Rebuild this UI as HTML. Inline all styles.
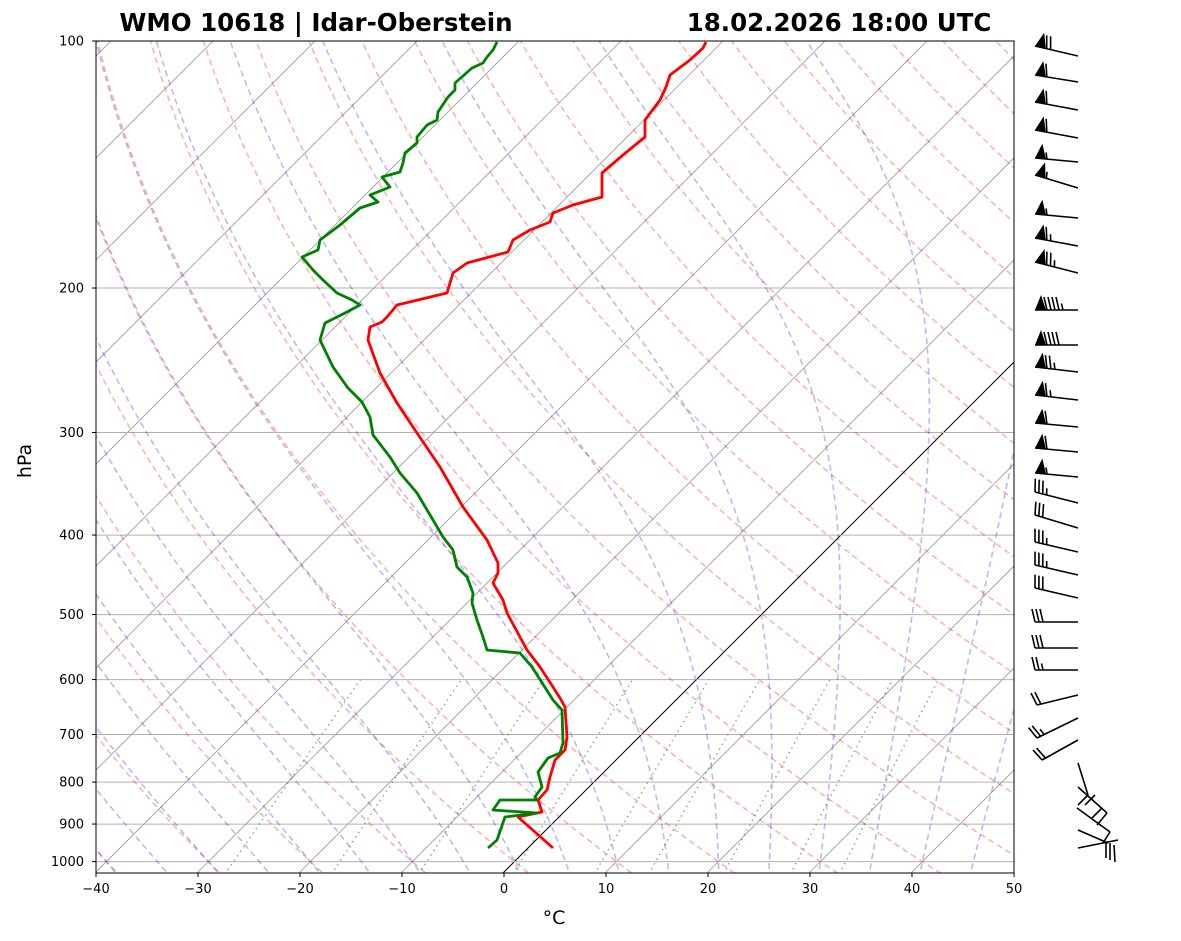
<!DOCTYPE html>
<html><head><meta charset="utf-8"><style>
html,body{margin:0;padding:0;background:#fff;}
svg{display:block;font-family:"DejaVu Sans","Liberation Sans",sans-serif;}
</style></head><body>
<svg id="s" width="1181" height="941" xmlns="http://www.w3.org/2000/svg">
<defs><clipPath id="c"><rect x="96" y="41" width="918" height="832"/></clipPath></defs>
<g id="bg" clip-path="url(#c)"></g>
<g id="prof" clip-path="url(#c)"></g>
<rect x="96" y="41" width="918" height="832" fill="none" stroke="#000" stroke-width="1"/>
<g id="ax" font-size="13" fill="#000"></g>
<g id="barbs"></g>
<text x="316" y="31" font-size="24.5" font-weight="bold" text-anchor="middle">WMO 10618 | Idar-Oberstein</text>
<text x="839" y="31" font-size="24.5" font-weight="bold" text-anchor="middle">18.02.2026 18:00 UTC</text>
<text x="554" y="924" font-size="19" text-anchor="middle">°C</text>
<text x="31" y="461" font-size="19" text-anchor="middle" transform="rotate(-90 31 461)">hPa</text>
</svg>
<script>
var NS="http://www.w3.org/2000/svg";
function el(p,t,a){var e=document.createElementNS(NS,t);for(var k in a)e.setAttribute(k,a[k]);p.appendChild(e);return e;}
function Y(p){return 41+820.6*Math.log10(p/100);}
function X(T,p){return 504+10.2*T+1.0*(872-Y(p));}
var bg=document.getElementById('bg'),ax=document.getElementById('ax');
function poly(g,pts,a){var d=pts.map(function(q,i){return (i?'L':'M')+q[0].toFixed(1)+','+q[1].toFixed(1);}).join('');a.d=d;a.fill='none';return el(g,'path',a);}
var P=[];for(var p=1050;p>=95;p-=5)P.push(p);
for(var T=-120;T<=50;T+=10){poly(bg,[[X(T,1100),Y(1100)],[X(T,90),Y(90)]],{stroke:T==0?'#000':'#999','stroke-width':T==0?1:0.8});}
[100,200,300,400,500,600,700,800,900,1000].forEach(function(p){poly(bg,[[96,Y(p)],[1014,Y(p)]],{stroke:'#b0b0b0','stroke-width':1});
 var t=el(ax,'text',{x:84,y:Y(p)+4.5,'text-anchor':'end'});t.textContent=p;
 el(ax,'line',{x1:92,x2:96,y1:Y(p),y2:Y(p),stroke:'#000'});});
for(var T=-40;T<=50;T+=10){var x=504+10.2*T;el(ax,'line',{x1:x,x2:x,y1:873,y2:877,stroke:'#000'});var t=el(ax,'text',{x:x,y:893,'text-anchor':'middle'});t.textContent=(T<0?'\u2212'+(-T):T);}
for(var th=-40;th<=200;th+=10){var pts=P.map(function(p){return [X((th+273.15)*Math.pow(p/1000,0.2857)-273.15,p),Y(p)];});
 poly(bg,pts,{stroke:'rgba(255,0,0,0.3)','stroke-width':1.6,'stroke-dasharray':'6,4'});}
function es(T){return 6.112*Math.exp(17.67*T/(T+243.5));}
function dTdp(T,p){var Tk=T+273.15,rs=0.622*es(T)/(p-es(T)),Lv=2.501e6,Rd=287.04,Cp=1005.7;
 return (Rd*Tk+Lv*rs)/(Cp+Lv*Lv*rs*0.622/(Rd*Tk*Tk))/p;}
for(var t0=-40;t0<=45;t0+=5){var up=[],T=t0,p=1000;up.push([X(T,p),Y(p)]);
 while(p>100){var h=-2;T+=dTdp(T,p+h/2)*h;p+=h;up.push([X(T,p),Y(p)]);}
 var dn=[];T=t0;p=1000;while(p<1050){var h=2;T+=dTdp(T,p+h/2)*h;p+=h;dn.push([X(T,p),Y(p)]);}
 poly(bg,dn.reverse().concat(up),{stroke:'rgba(0,0,255,0.28)','stroke-width':1.6,'stroke-dasharray':'6,4'});}
[0.0004,0.001,0.002,0.004,0.007,0.01,0.016,0.024,0.032].forEach(function(w){var pts=[];
 for(var p=1050;p>=600;p-=10){var e=p*w/(0.622+w),l=Math.log(e/6.112),Td=243.5*l/(17.67-l);pts.push([X(Td,p),Y(p)]);}
 poly(bg,pts,{stroke:'rgba(0,128,0,0.5)','stroke-width':1.6,'stroke-dasharray':'1.5,4'});});
var pr=document.getElementById('prof');
var red=[[706,42],[703,48],[690,60],[670,75],[666,87],[660,100],[645,120],[645,137],[623,155],[602,173],[602,197],[573,205],[553,213],[550,222],[530,230],[513,240],[508,252],[467,263],[453,273],[450,283],[447,293],[397,305],[387,317],[382,322],[370,327],[368,340],[380,373],[397,403],[417,433],[440,467],[463,507],[487,540],[498,563],[498,573],[493,583],[503,600],[507,613],[527,650],[540,667],[553,687],[560,698],[565,707],[567,737],[565,750],[555,760],[550,777],[547,790],[538,800],[542,812],[518,817],[553,848]];
var grn=[[497,42],[493,50],[487,57],[483,63],[472,68],[455,83],[455,90],[448,97],[438,112],[437,120],[427,125],[417,137],[417,143],[405,153],[403,163],[400,172],[382,177],[390,187],[370,195],[378,202],[360,208],[340,225],[320,240],[318,250],[302,257],[313,270],[323,280],[337,293],[352,300],[360,305],[345,313],[325,323],[320,340],[333,367],[348,388],[362,402],[370,417],[373,435],[390,457],[400,473],[417,493],[433,520],[443,537],[453,550],[457,567],[467,577],[473,593],[472,603],[477,620],[483,637],[487,650],[520,653],[532,667],[553,700],[562,710],[563,743],[560,753],[548,758],[538,772],[542,787],[535,797],[537,800],[500,800],[493,810],[537,813],[505,817],[497,840],[488,848]];
poly(pr,red,{stroke:'#f00','stroke-width':2.8,'stroke-linejoin':'round'});
poly(pr,grn,{stroke:'#008000','stroke-width':2.8,'stroke-linejoin':'round'});
var bb=document.getElementById('barbs');
function barb(y,ty,tx,fl,full,half){var bx=1078,Tx=tx||1038,Ty=ty,dx=Tx-bx,dy=Ty-y,L=Math.hypot(dx,dy),ux=dx/L,uy=dy/L,nx=-uy,ny=ux;
 el(bb,'line',{x1:bx,y1:y,x2:Tx,y2:Ty,stroke:'#000','stroke-width':1.6});
 var o=0;
 for(var i=0;i<fl;i++){var ax_=Tx-ux*o,ay=Ty-uy*o;
  el(bb,'polygon',{points:[ax_,ay,ax_-ux*6+nx*15,ay-uy*6+ny*15,ax_-ux*11,ay-uy*11].join(','),fill:'#000'});o+=11;}
 if(fl)o+=1;
 for(var i=0;i<full;i++){var ax_=Tx-ux*o,ay=Ty-uy*o;el(bb,'line',{x1:ax_,y1:ay,x2:ax_+nx*13+ux*3,y2:ay+ny*13+uy*3,stroke:'#000','stroke-width':1.6});o+=4;}
 if(half){if(!fl&&!full)o+=4;var ax_=Tx-ux*o,ay=Ty-uy*o;el(bb,'line',{x1:ax_,y1:ay,x2:ax_+nx*6.5+ux*1.5,y2:ay+ny*6.5+uy*1.5,stroke:'#000','stroke-width':1.6});}
}
var B=[[56,46,1,2,0],[82,75,1,1,0],[110,102,1,1,0],[138,130,1,1,0],[162,158,1,0,1],[188,175,1,0,1],[218,214,1,0,1],[246,238,1,1,1],[273,262,1,2,1],[310,310,1,4,1],[345,345,1,4,0],[372,367,1,2,1],[400,395,1,1,1],[427,423,1,1,0],[452,448,1,1,0],[477,473,1,0,1],[503,492,0,3,1],[528,515,0,3,0],[552,542,0,3,1],[575,565,0,3,1],[598,588,0,3,0],[622,622,0,3,0],[648,648,0,3,0],[670,670,0,2,1]];
B.forEach(function(b){barb(b[0],b[1],1035,b[2],b[3],b[4]);});
barb(695,705,1037,0,2,0);barb(718,738,1037,0,2,1);barb(740,760,1042,0,2,0);
[[1078,763,1088,795],[1078,787,1107,813],[1107,813,1097,825],[1102,808,1092,818],[1077,808,1110,832],[1095,795,1085,805],[1110,832,1103,843],[1078,830,1108,843],[1078,848,1118,840],[1110,843,1110,860],[1114,845,1115,862],[1106,842,1106,858],[1088,795,1078,805]].forEach(function(l){el(bb,'line',{x1:l[0],y1:l[1],x2:l[2],y2:l[3],stroke:'#000','stroke-width':1.6});});
</script>
</body></html>
